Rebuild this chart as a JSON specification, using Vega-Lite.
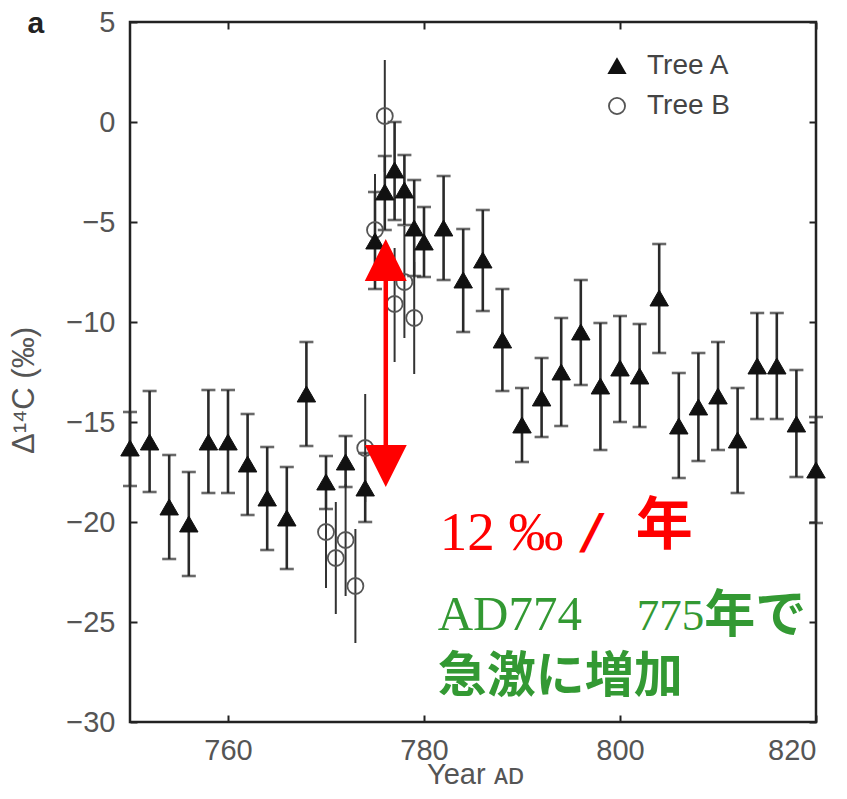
{
  "$schema": "https://vega.github.io/schema/vega-lite/v6.json",
  "width": 686,
  "height": 700,
  "autosize": {"type": "none"},
  "padding": {"left": 130, "top": 22, "right": 31, "bottom": 77},
  "background": "white",
  "config": {
    "view": {"stroke": "#222", "strokeWidth": 2.5},
    "axis": {"grid": false, "domain": false, "tickColor": "#222", "tickWidth": 2, "tickSize": 7,
      "labelFont": "Liberation Sans", "labelFontSize": 29, "labelColor": "#555",
      "titleFont": "Liberation Sans", "titleFontSize": 28, "titleColor": "#555", "titleFontWeight": "normal"}
  },
  "datasets": {
    "pts": [
      {"tree": "Tree B", "year": 770, "val": -20.5, "lo": -23.3, "hi": -17.7},
      {"tree": "Tree B", "year": 771, "val": -21.8, "lo": -24.6, "hi": -19.0},
      {"tree": "Tree B", "year": 772, "val": -20.9, "lo": -23.7, "hi": -18.1},
      {"tree": "Tree B", "year": 773, "val": -23.2, "lo": -26.05, "hi": -20.35},
      {"tree": "Tree B", "year": 774, "val": -16.3, "lo": -19.0, "hi": -13.6},
      {"tree": "Tree B", "year": 775, "val": -5.4, "lo": -8.3, "hi": -2.6},
      {"tree": "Tree B", "year": 776, "val": 0.3, "lo": -2.5, "hi": 3.1},
      {"tree": "Tree B", "year": 777, "val": -9.1, "lo": -12.0, "hi": -6.3},
      {"tree": "Tree B", "year": 778, "val": -8.0, "lo": -10.8, "hi": -5.2},
      {"tree": "Tree B", "year": 779, "val": -9.8, "lo": -12.6, "hi": -7.0},
      {"tree": "Tree A", "year": 750, "val": -16.3, "lo": -18.2, "hi": -14.5},
      {"tree": "Tree A", "year": 752, "val": -16.0, "lo": -18.5, "hi": -13.45},
      {"tree": "Tree A", "year": 754, "val": -19.25, "lo": -21.85, "hi": -16.65},
      {"tree": "Tree A", "year": 756, "val": -20.1, "lo": -22.7, "hi": -17.5},
      {"tree": "Tree A", "year": 758, "val": -16.0, "lo": -18.55, "hi": -13.4},
      {"tree": "Tree A", "year": 760, "val": -16.0, "lo": -18.55, "hi": -13.4},
      {"tree": "Tree A", "year": 762, "val": -17.1, "lo": -19.65, "hi": -14.6},
      {"tree": "Tree A", "year": 764, "val": -18.8, "lo": -21.4, "hi": -16.25},
      {"tree": "Tree A", "year": 766, "val": -19.8, "lo": -22.35, "hi": -17.25},
      {"tree": "Tree A", "year": 768, "val": -13.6, "lo": -16.2, "hi": -11.0},
      {"tree": "Tree A", "year": 770, "val": -18.0, "lo": -19.35, "hi": -16.7},
      {"tree": "Tree A", "year": 772, "val": -17.0, "lo": -18.25, "hi": -15.7},
      {"tree": "Tree A", "year": 774, "val": -18.3, "lo": -20.0, "hi": -16.55},
      {"tree": "Tree A", "year": 775, "val": -5.95, "lo": -8.35, "hi": -3.5},
      {"tree": "Tree A", "year": 776, "val": -3.5, "lo": -5.4, "hi": -1.7},
      {"tree": "Tree A", "year": 777, "val": -2.4, "lo": -4.9, "hi": 0.0},
      {"tree": "Tree A", "year": 778, "val": -3.4, "lo": -5.15, "hi": -1.65},
      {"tree": "Tree A", "year": 779, "val": -5.3, "lo": -7.7, "hi": -2.9},
      {"tree": "Tree A", "year": 780, "val": -6.0, "lo": -7.75, "hi": -4.25},
      {"tree": "Tree A", "year": 782, "val": -5.3, "lo": -7.9, "hi": -2.7},
      {"tree": "Tree A", "year": 784, "val": -7.9, "lo": -10.5, "hi": -5.35},
      {"tree": "Tree A", "year": 786, "val": -6.9, "lo": -9.45, "hi": -4.4},
      {"tree": "Tree A", "year": 788, "val": -10.9, "lo": -13.45, "hi": -8.35},
      {"tree": "Tree A", "year": 790, "val": -15.15, "lo": -17.0, "hi": -13.3},
      {"tree": "Tree A", "year": 792, "val": -13.8, "lo": -15.75, "hi": -11.8},
      {"tree": "Tree A", "year": 794, "val": -12.5, "lo": -15.2, "hi": -9.8},
      {"tree": "Tree A", "year": 796, "val": -10.5, "lo": -13.15, "hi": -7.9},
      {"tree": "Tree A", "year": 798, "val": -13.2, "lo": -16.4, "hi": -10.05},
      {"tree": "Tree A", "year": 800, "val": -12.3, "lo": -15.0, "hi": -9.7},
      {"tree": "Tree A", "year": 802, "val": -12.7, "lo": -15.25, "hi": -10.1},
      {"tree": "Tree A", "year": 804, "val": -8.8, "lo": -11.55, "hi": -6.1},
      {"tree": "Tree A", "year": 806, "val": -15.2, "lo": -17.8, "hi": -12.55},
      {"tree": "Tree A", "year": 808, "val": -14.25, "lo": -16.95, "hi": -11.55},
      {"tree": "Tree A", "year": 810, "val": -13.7, "lo": -16.4, "hi": -11.0},
      {"tree": "Tree A", "year": 812, "val": -15.9, "lo": -18.55, "hi": -13.3},
      {"tree": "Tree A", "year": 814, "val": -12.2, "lo": -14.85, "hi": -9.55},
      {"tree": "Tree A", "year": 816, "val": -12.2, "lo": -14.85, "hi": -9.55},
      {"tree": "Tree A", "year": 818, "val": -15.1, "lo": -17.75, "hi": -12.4},
      {"tree": "Tree A", "year": 820, "val": -17.4, "lo": -20.05, "hi": -14.75}
    ],
    "one": [{"k": 1}]
  },
  "resolve": {"axis": {"x": "independent", "y": "independent"}},
  "layer": [
    {
      "data": {"name": "pts"},
      "transform": [{"filter": "datum.tree === 'Tree B'"}],
      "mark": {"type": "rule", "strokeWidth": 2, "color": "#333"},
      "encoding": {
        "x": {"field": "year", "type": "quantitative", "scale": {"domain": [750, 820], "nice": false, "zero": false},
          "axis": {"orient": "bottom", "values": [760, 780, 800, 820], "ticks": false, "labelPadding": 14, "title": "Year ᴀᴅ", "titleX": 345, "titleY": 61, "titleBaseline": "alphabetic", "titleAnchor": "middle", "titleFontSize": 29}},
        "y": {"field": "lo", "type": "quantitative", "scale": {"domain": [-30, 5], "nice": false, "zero": false},
          "axis": {"orient": "left", "values": [-30, -25, -20, -15, -10, -5, 0, 5], "ticks": false, "labelPadding": 15, "title": "Δ¹⁴C (‰)", "titleX": -90, "titleY": 368, "titleBaseline": "bottom", "titleAngle": -90, "titleFontSize": 31}},
        "y2": {"field": "hi"}
      }
    },
    {
      "data": {"name": "pts"},
      "transform": [{"filter": "datum.tree === 'Tree A'"}],
      "mark": {"type": "rule", "strokeWidth": 2.6, "color": "#2a2a2a"},
      "encoding": {
        "x": {"field": "year", "type": "quantitative", "scale": {"domain": [750, 820], "nice": false, "zero": false},
          "axis": {"orient": "top", "offset": -700, "values": [760, 780, 800, 820], "labels": false, "title": null}},
        "y": {"field": "lo", "type": "quantitative", "scale": {"domain": [-30, 5], "nice": false, "zero": false},
          "axis": {"orient": "right", "offset": -686, "values": [-30, -25, -20, -15, -10, -5, 0, 5], "labels": false, "title": null}},
        "y2": {"field": "hi"}
      }
    },
    {
      "data": {"name": "pts"},
      "transform": [{"filter": "datum.tree === 'Tree A'"}],
      "mark": {"type": "point", "shape": "stroke", "size": 196, "strokeWidth": 2.6, "color": "#2a2a2a", "filled": false},
      "encoding": {
        "x": {"field": "year", "type": "quantitative", "scale": {"domain": [750, 820], "nice": false, "zero": false},
          "axis": {"orient": "bottom", "offset": -700, "values": [760, 780, 800, 820], "labels": false, "title": null}},
        "y": {"field": "lo", "type": "quantitative", "scale": {"domain": [-30, 5], "nice": false, "zero": false},
          "axis": {"orient": "left", "offset": -686, "values": [-30, -25, -20, -15, -10, -5, 0, 5], "labels": false, "title": null}}
      }
    },
    {
      "data": {"name": "pts"},
      "transform": [{"filter": "datum.tree === 'Tree A'"}],
      "mark": {"type": "point", "shape": "stroke", "size": 196, "strokeWidth": 2.6, "color": "#2a2a2a", "filled": false},
      "encoding": {
        "x": {"field": "year", "type": "quantitative", "scale": {"domain": [750, 820], "nice": false, "zero": false}, "axis": null},
        "y": {"field": "hi", "type": "quantitative", "scale": {"domain": [-30, 5], "nice": false, "zero": false}, "axis": null}
      }
    },
    {
      "data": {"name": "pts"},
      "transform": [{"filter": "datum.tree === 'Tree B'"}],
      "mark": {"type": "point", "size": 256, "strokeWidth": 1.8, "opacity": 1},
      "encoding": {
        "x": {"field": "year", "type": "quantitative", "scale": {"domain": [750, 820], "nice": false, "zero": false}, "axis": null},
        "y": {"field": "val", "type": "quantitative", "scale": {"domain": [-30, 5], "nice": false, "zero": false}, "axis": null},
        "shape": {"field": "tree", "type": "nominal", "scale": {"domain": ["Tree A", "Tree B"], "range": ["triangle-up", "circle"]},
          "legend": {"title": null, "orient": "none", "legendX": 473, "legendY": 30, "labelFont": "Liberation Sans", "labelFontSize": 28, "labelColor": "#444", "symbolSize": 260, "symbolStrokeWidth": 1.8, "rowPadding": 12, "labelOffset": 16, "padding": 0}},
        "fill": {"field": "tree", "type": "nominal", "scale": {"domain": ["Tree A", "Tree B"], "range": ["#111111", "transparent"]},
          "legend": {"title": null, "orient": "none", "legendX": 473, "legendY": 30, "labelFont": "Liberation Sans", "labelFontSize": 28, "labelColor": "#444", "symbolSize": 260, "symbolStrokeWidth": 1.8, "rowPadding": 12, "labelOffset": 16, "padding": 0}},
        "stroke": {"field": "tree", "type": "nominal", "scale": {"domain": ["Tree A", "Tree B"], "range": ["#111111", "#555555"]},
          "legend": {"title": null, "orient": "none", "legendX": 473, "legendY": 30, "labelFont": "Liberation Sans", "labelFontSize": 28, "labelColor": "#444", "symbolSize": 260, "symbolStrokeWidth": 1.8, "rowPadding": 12, "labelOffset": 16, "padding": 0}}
      }
    },
    {
      "data": {"name": "pts"},
      "transform": [{"filter": "datum.tree === 'Tree A'"}],
      "mark": {"type": "point", "size": 340, "strokeWidth": 1, "opacity": 1},
      "encoding": {
        "x": {"field": "year", "type": "quantitative", "scale": {"domain": [750, 820], "nice": false, "zero": false}, "axis": null},
        "y": {"field": "val", "type": "quantitative", "scale": {"domain": [-30, 5], "nice": false, "zero": false}, "axis": null},
        "shape": {"field": "tree", "type": "nominal"},
        "fill": {"field": "tree", "type": "nominal"},
        "stroke": {"field": "tree", "type": "nominal"}
      }
    },
    {
      "data": {"name": "one"},
      "mark": {"type": "rule", "color": "#ff0000", "strokeWidth": 4.5},
      "encoding": {
        "x": {"datum": 776.1, "type": "quantitative", "axis": null},
        "y": {"datum": -7.6, "type": "quantitative", "axis": null},
        "y2": {"datum": -16.6}
      }
    },
    {
      "data": {"name": "one"},
      "mark": {"type": "point", "shape": "M0,-1L1,1L-1,1Z", "size": 1764, "filled": true, "color": "#ff0000", "opacity": 1, "strokeWidth": 0},
      "encoding": {
        "x": {"datum": 776.1, "type": "quantitative", "axis": null},
        "y": {"datum": -6.9, "type": "quantitative", "axis": null}
      }
    },
    {
      "data": {"name": "one"},
      "mark": {"type": "point", "shape": "M0,1L1,-1L-1,-1Z", "size": 1764, "filled": true, "color": "#ff0000", "opacity": 1, "strokeWidth": 0},
      "encoding": {
        "x": {"datum": 776.1, "type": "quantitative", "axis": null},
        "y": {"datum": -17.2, "type": "quantitative", "axis": null}
      }
    },
    {
      "data": {"name": "one"},
      "mark": {"type": "text", "text": "a", "font": "Liberation Sans", "fontWeight": "bold", "fontSize": 30, "color": "#222", "align": "center", "baseline": "alphabetic"},
      "encoding": {
        "x": {"datum": 740.4, "type": "quantitative", "axis": null},
        "y": {"datum": 4.45, "type": "quantitative", "axis": null}
      }
    },
    {
      "data": {"name": "one"},
      "mark": {"type": "text", "text": "12 ‰", "font": "Liberation Serif", "fontSize": 55, "color": "#ff0000", "align": "left", "baseline": "alphabetic"},
      "encoding": {
        "x": {"datum": 781.6, "type": "quantitative", "axis": null},
        "y": {"datum": -21.4, "type": "quantitative", "axis": null}
      }
    },
    {
      "data": {"name": "one"},
      "mark": {"type": "text", "text": "/", "font": "DejaVu Sans", "fontWeight": "bold", "fontStyle": "italic", "fontSize": 48, "color": "#ff0000", "align": "left", "baseline": "alphabetic"},
      "encoding": {
        "x": {"datum": 796.3, "type": "quantitative", "axis": null},
        "y": {"datum": -21.3, "type": "quantitative", "axis": null}
      }
    },
    {
      "data": {"name": "one"},
      "mark": {"type": "text", "text": "年", "font": "Noto Sans CJK JP", "fontWeight": "bold", "fontSize": 57, "color": "#ff0000", "align": "left", "baseline": "alphabetic"},
      "encoding": {
        "x": {"datum": 801.6, "type": "quantitative", "axis": null},
        "y": {"datum": -21.1, "type": "quantitative", "axis": null}
      }
    },
    {
      "data": {"name": "one"},
      "mark": {"type": "text", "text": "AD774", "font": "Liberation Serif", "fontSize": 49, "color": "#339933", "align": "left", "baseline": "alphabetic"},
      "encoding": {
        "x": {"datum": 781.4, "type": "quantitative", "axis": null},
        "y": {"datum": -25.4, "type": "quantitative", "axis": null}
      }
    },
    {
      "data": {"name": "one"},
      "mark": {"type": "text", "text": "775", "font": "Liberation Serif", "fontSize": 45, "color": "#339933", "align": "left", "baseline": "alphabetic"},
      "encoding": {
        "x": {"datum": 801.7, "type": "quantitative", "axis": null},
        "y": {"datum": -25.4, "type": "quantitative", "axis": null}
      }
    },
    {
      "data": {"name": "one"},
      "mark": {"type": "text", "text": "年で", "font": "Noto Sans CJK JP", "fontWeight": "bold", "fontSize": 51, "color": "#339933", "align": "left", "baseline": "alphabetic"},
      "encoding": {
        "x": {"datum": 808.6, "type": "quantitative", "axis": null},
        "y": {"datum": -25.5, "type": "quantitative", "axis": null}
      }
    },
    {
      "data": {"name": "one"},
      "mark": {"type": "text", "text": "急激に増加", "font": "Noto Sans CJK JP", "fontWeight": "bold", "fontSize": 49, "color": "#339933", "align": "left", "baseline": "alphabetic"},
      "encoding": {
        "x": {"datum": 781.4, "type": "quantitative", "axis": null},
        "y": {"datum": -28.5, "type": "quantitative", "axis": null}
      }
    }
  ]
}
